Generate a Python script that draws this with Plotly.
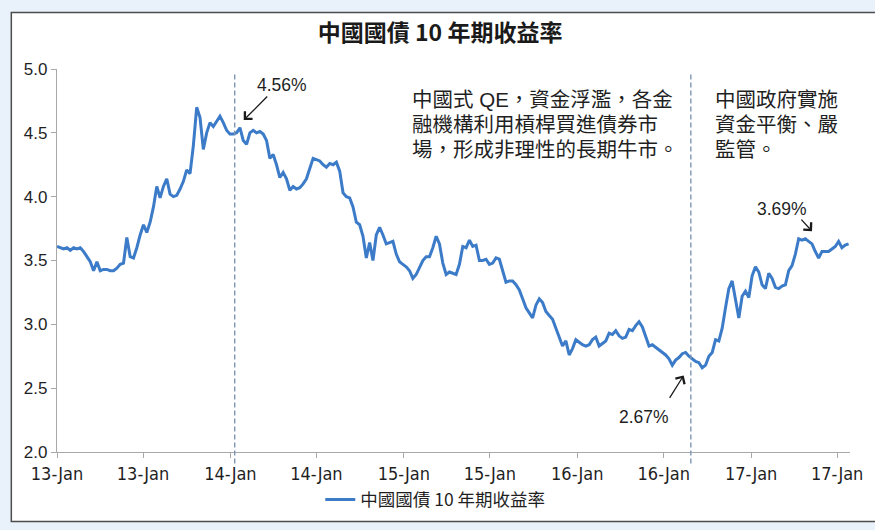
import pandas as pd
import plotly.graph_objects as go

# ---- data (weekly) ----
series_name = "中國國債 10 年期收益率"
start_date = "2013-01-01"
yields = [
    3.61, 3.60, 3.59, 3.60, 3.58, 3.60, 3.59, 3.60, 3.57, 3.53,
    3.49, 3.42, 3.49, 3.42, 3.43, 3.43, 3.42, 3.42, 3.44, 3.47,
    3.48, 3.68, 3.53, 3.52, 3.60, 3.70, 3.78, 3.72, 3.80, 3.92,
    4.08, 3.99, 4.08, 4.14, 4.02, 4.00, 4.01, 4.06, 4.12, 4.21,
    4.18, 4.40, 4.70, 4.62, 4.37, 4.50, 4.58, 4.55, 4.59, 4.63,
    4.58, 4.52, 4.49, 4.49, 4.50, 4.54, 4.44, 4.41, 4.50, 4.52,
    4.50, 4.51, 4.49, 4.44, 4.30, 4.33, 4.25, 4.15, 4.19, 4.14,
    4.05, 4.08, 4.06, 4.07, 4.10, 4.14, 4.22, 4.30, 4.29, 4.28,
    4.25, 4.23, 4.26, 4.25, 4.27, 4.20, 4.03, 4.00, 3.99, 3.92,
    3.80, 3.78, 3.69, 3.52, 3.64, 3.50, 3.70, 3.76, 3.70, 3.63,
    3.64, 3.65, 3.55, 3.49, 3.47, 3.45, 3.42, 3.36, 3.39, 3.44,
    3.50, 3.53, 3.53, 3.60, 3.69, 3.63, 3.48, 3.39, 3.41, 3.40,
    3.39, 3.47, 3.61, 3.60, 3.66, 3.61, 3.62, 3.50, 3.50, 3.51,
    3.47, 3.48, 3.52, 3.51, 3.42, 3.33, 3.34, 3.34, 3.31, 3.27,
    3.20, 3.13, 3.09, 3.05, 3.15, 3.20, 3.17, 3.10, 3.07, 3.04,
    2.97, 2.90, 2.83, 2.87, 2.76, 2.81, 2.88, 2.86, 2.84, 2.83,
    2.84, 2.88, 2.90, 2.83, 2.85, 2.87, 2.93, 2.92, 2.95, 2.91,
    2.89, 2.90, 2.96, 2.95, 2.99, 3.02, 2.98, 2.91, 2.83, 2.84,
    2.82, 2.80, 2.78, 2.76, 2.73, 2.68, 2.72, 2.74, 2.77, 2.78,
    2.75, 2.73, 2.71, 2.70, 2.66, 2.68, 2.75, 2.78, 2.88, 2.87,
    2.97, 3.13, 3.28, 3.34, 3.20, 3.05, 3.22, 3.26, 3.21, 3.38,
    3.45, 3.41, 3.31, 3.28, 3.40, 3.36, 3.29, 3.28, 3.30, 3.31,
    3.42, 3.46, 3.55, 3.67, 3.66, 3.67, 3.65, 3.63, 3.57, 3.52,
    3.57, 3.57, 3.57, 3.59, 3.61, 3.65, 3.60, 3.62, 3.63,
]
dates = pd.date_range(start_date, periods=len(yields), freq="7D")

tick_dates = ["2013-01-01", "2013-07-01", "2014-01-01", "2014-07-01", "2015-01-01",
              "2015-07-01", "2016-01-01", "2016-07-01", "2017-01-01", "2017-07-01"]
tick_labels = ["13-Jan", "13-Jan", "14-Jan", "14-Jan", "15-Jan",
               "15-Jan", "16-Jan", "16-Jan", "17-Jan", "17-Jan"]
y_ticks = [2.0, 2.5, 3.0, 3.5, 4.0, 4.5, 5.0]

marker_dates = ["2014-01-10", "2016-08-27"]

callouts = [  # (label, point date, point value)
    ("4.56%", "2014-01-29", 4.60),
    ("2.67%", "2016-08-12", 2.60),
    ("3.69%", "2017-05-09", 3.73),
]
note1 = ["中國式 QE，資金浮濫，各金", "融機構利用槓桿買進債券市", "場，形成非理性的長期牛市。"]
note2 = ["中國政府實施", "資金平衡、嚴", "監管。"]

CJK = "Noto Sans CJK TC, Noto Sans CJK SC, sans-serif"
NOTE = "Liberation Sans, Noto Sans CJK TC, Noto Sans CJK SC, sans-serif"
LAT = "Liberation Sans, Arial, sans-serif"
NARROW = "Liberation Sans Narrow, DejaVu Sans Condensed, Liberation Sans, sans-serif"

fig = go.Figure()
fig.add_trace(go.Scatter(
    x=dates, y=yields, mode="lines", name=series_name,
    line=dict(color="#3b7bc8", width=3),
))

shapes = [
    dict(type="rect", xref="paper", yref="paper", x0=-0.0576, x1=1.06,
         y0=-0.1813, y1=1.1477, fillcolor="white",
         line=dict(color="#4d4d4d", width=1.5), layer="below"),
]
for d in marker_dates:
    shapes.append(dict(type="line", xref="x", yref="paper", x0=d, x1=d,
                       y0=-0.03, y1=0.99,
                       line=dict(color="#7d95b5", width=1.4, dash="5px,3px")))

annotations = []
arrow_offsets = [(25, -25), (-15, 24), (-12, -13)]
label_pos = [(0.2832, 0.9585), (0.7406, 0.0907), (0.9148, 0.6347)]
for (lab, d, v), (ax, ay), (lx, ly) in zip(callouts, arrow_offsets, label_pos):
    annotations.append(dict(x=d, y=v, xref="x", yref="y", text="", showarrow=True,
                            ax=ax, ay=ay, arrowhead=4, arrowsize=1.6, arrowwidth=1.3,
                            arrowcolor="#1a1a1a"))
    annotations.append(dict(x=lx, y=ly, xref="paper", yref="paper", text=lab,
                            showarrow=False, xanchor="center", yanchor="middle",
                            font=dict(family=LAT, size=17.5, color="#1f1f1f")))

line_ys = [0.9197, 0.8549, 0.7902]
for lines, xx in ((note1, 0.4449), (note2, 0.8271)):
    for txt, yy in zip(lines, line_ys):
        annotations.append(dict(x=xx, y=yy, xref="paper", yref="paper", text=txt,
                                showarrow=False, xanchor="left", yanchor="middle",
                                font=dict(family=NOTE, size=20.5, color="#1f1f1f")))

fig.update_layout(
    width=875, height=530,
    margin=dict(l=57, r=20, t=69, b=75),
    paper_bgcolor="#e9f2fb",
    plot_bgcolor="rgba(0,0,0,0)",
    title=dict(text="<b>" + series_name + "</b>", xref="container", yref="container",
               x=0.503, y=0.938, xanchor="center", yanchor="middle",
               font=dict(family=CJK, size=23, color="#1a1a1a")),
    xaxis=dict(range=["2013-01-01", "2017-07-28"], tickvals=tick_dates, ticktext=tick_labels,
               showgrid=False, zeroline=False, showline=True, linecolor="#a8a8a8", linewidth=1.2,
               ticks="outside", ticklen=5, tickcolor="#a8a8a8",
               tickfont=dict(family=NARROW, size=18, color="#1f1f1f")),
    yaxis=dict(range=[2, 5], tickvals=y_ticks, tickformat=".1f",
               showgrid=False, zeroline=False, showline=True, linecolor="#a8a8a8", linewidth=1.2,
               ticks="outside", ticklen=5, tickcolor="#a8a8a8",
               tickfont=dict(family=LAT, size=17, color="#1f1f1f")),
    showlegend=True,
    legend=dict(orientation="h", x=0.332, y=-0.1244, xanchor="left", yanchor="middle",
                bgcolor="rgba(0,0,0,0)", font=dict(family=CJK, size=17.5, color="#1f1f1f")),
    shapes=shapes,
    annotations=annotations,
)

fig.write_html("out.html")
